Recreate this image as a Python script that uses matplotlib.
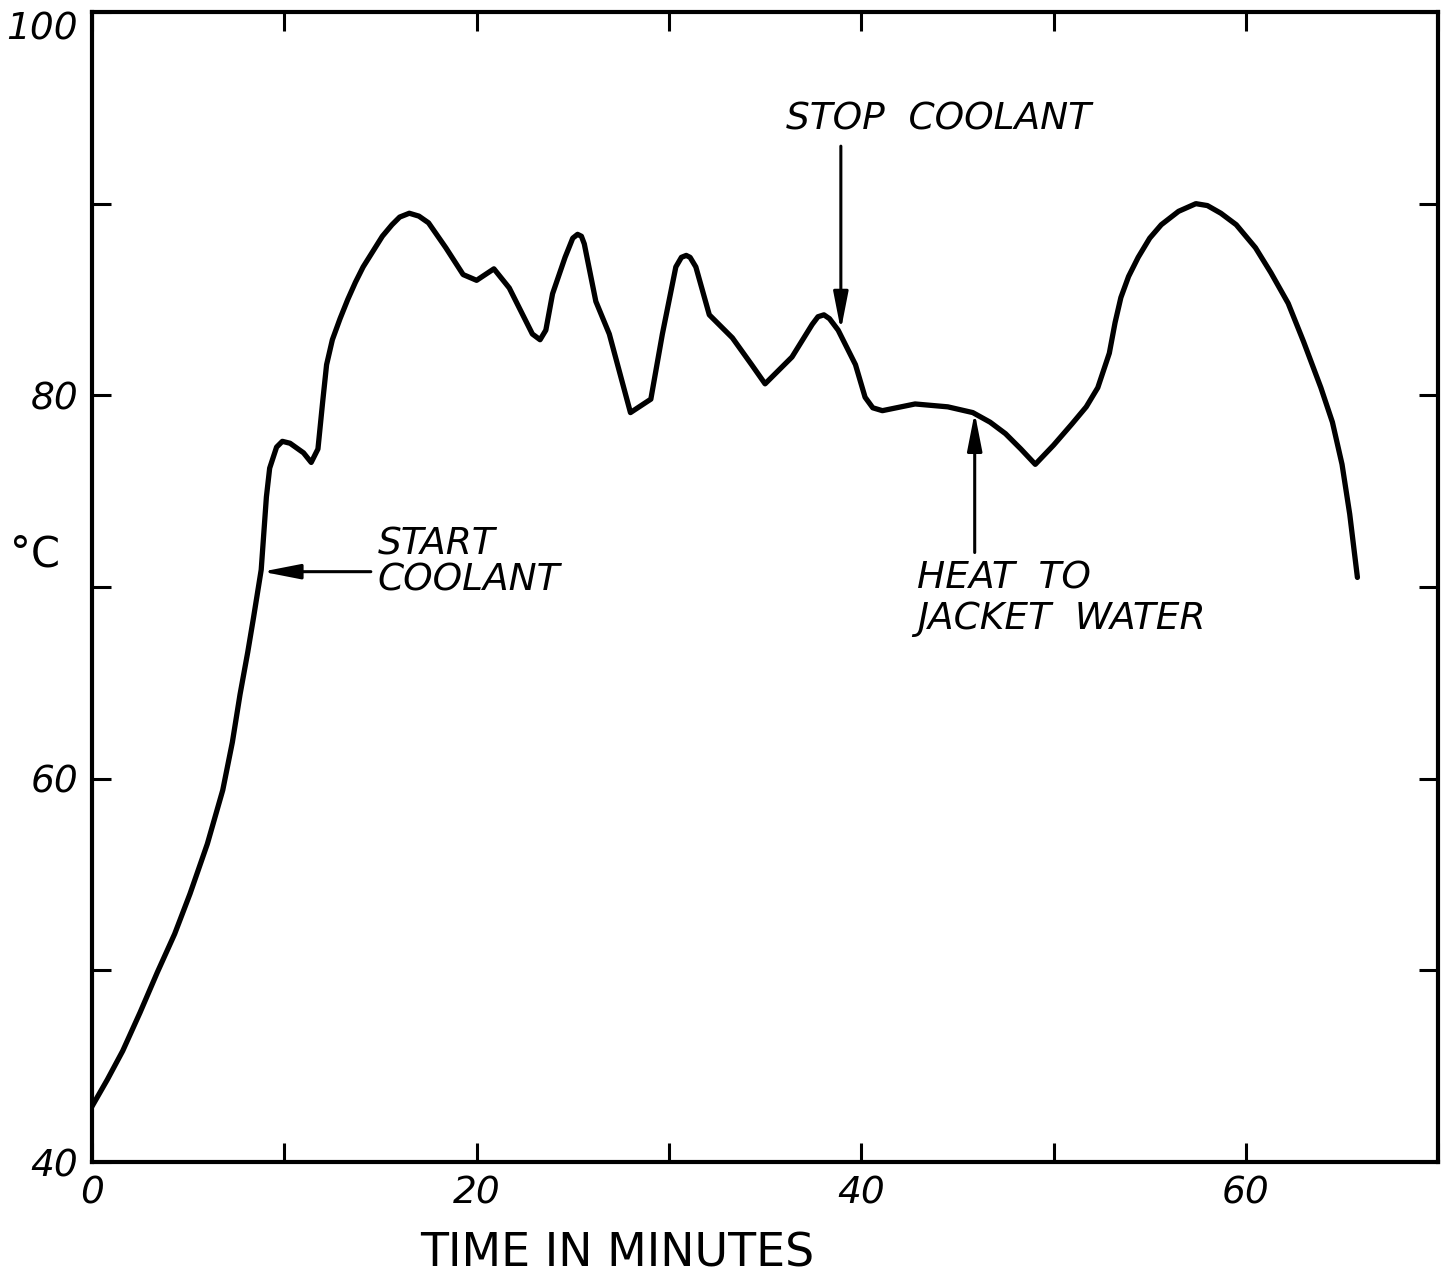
import numpy as np
import matplotlib
matplotlib.use("Agg")
import matplotlib.pyplot as plt

# temperature vs time
time_min = [0, 0.8, 1.6, 2.5, 3.4, 4.3, 5.1, 6.0, 6.8, 7.3, 7.7, 8.1, 8.4, 8.8,
            9.07, 9.24, 9.6, 9.9, 10.3, 11.0, 11.4, 11.75, 12.0, 12.2, 12.5,
            12.9, 13.3, 13.7, 14.1, 14.6, 15.1, 15.6, 16.0, 16.5, 17.0, 17.5,
            18.4, 19.3, 20.0, 20.9, 21.7, 22.9, 23.3, 23.6, 23.95, 24.6, 25.0,
            25.25, 25.45, 25.6, 26.2, 26.9, 28.0, 29.06, 29.66, 30.36, 30.65,
            30.9, 31.1, 31.4, 32.1, 33.3, 34.3, 35.0, 36.4, 37.45, 37.75,
            38.06, 38.35, 38.8, 39.7, 40.2, 40.6, 41.1, 42.8, 44.5, 45.8,
            46.7, 47.5, 48.3, 49.05, 50.0, 50.95, 51.7, 52.3, 52.9, 53.2,
            53.5, 53.9, 54.4, 55.0, 55.6, 56.5, 57.4, 58.0, 58.7, 59.5, 60.5,
            61.3, 62.2, 63.0, 63.9, 64.5, 65.0, 65.4, 65.8]
temp_c = [42.9, 44.3, 45.8, 47.8, 49.9, 51.9, 54.0, 56.6, 59.4, 61.9, 64.4, 66.6, 68.4, 70.9,
          74.7, 76.2, 77.3, 77.6, 77.5, 77.0, 76.5, 77.2, 79.7, 81.6, 82.9,
          84.0, 85.0, 85.9, 86.7, 87.5, 88.3, 88.9, 89.3, 89.5, 89.35, 89.0,
          87.7, 86.3, 86.0, 86.6, 85.6, 83.2, 82.9, 83.4, 85.3, 87.2, 88.2,
          88.4, 88.3, 87.9, 84.9, 83.2, 79.1, 79.8, 83.2, 86.7, 87.2,
          87.3, 87.2, 86.7, 84.2, 83.0, 81.6, 80.6, 82.0, 83.7, 84.1,
          84.2, 84.0, 83.4, 81.6, 79.9, 79.35, 79.2, 79.55, 79.4, 79.1,
          78.6, 78.0, 77.2, 76.4, 77.4, 78.5, 79.4, 80.4, 82.2, 83.8,
          85.1, 86.2, 87.2, 88.2, 88.9, 89.6, 90.0, 89.9, 89.5, 88.9, 87.7,
          86.4, 84.8, 82.8, 80.4, 78.6, 76.4, 73.8, 70.5]

x_ticks = [0, 10, 20, 30, 40, 50, 60, 70]
x_labels = ["0", "", "20", "", "40", "", "60", ""]
y_ticks = [40, 50, 60, 70, 80, 90, 100]
y_labels = ["40", "", "60", "", "80", "", "100"]

fig = plt.figure(figsize=(14.46, 12.75), dpi=100)
ax = fig.add_axes([0.0636, 0.0886, 0.931, 0.902])

ax.plot(time_min, temp_c, color="black", lw=3.8,
        solid_joinstyle="round", solid_capstyle="round")

ax.set_xlim(0, 70)
ax.set_ylim(40, 100)
ax.set_xticks(x_ticks)
ax.set_xticklabels(x_labels, fontsize=27, style="italic")
ax.set_yticks(y_ticks)
ax.set_yticklabels(y_labels, fontsize=27, style="italic")
ax.tick_params(direction="in", length=14, width=2.2,
               top=True, right=True, pad=10)
# top label sits inside the frame height, like the original
ax.get_yticklabels()[-1].set_va("top")

for s in ax.spines.values():
    s.set_linewidth(3)

ax.set_xlabel("TIME IN MINUTES", fontsize=33)
ax.xaxis.set_label_coords(0.39, -0.06)
fig.text(0.007, 0.565, "°C", fontsize=30, va="center", ha="left")

# annotations
arrow = dict(arrowstyle="-|>,head_length=2.3,head_width=0.45",
             lw=2.2, color="black", shrinkA=0, shrinkB=0)
txt = dict(fontsize=27, style="italic")

ax.annotate("", xy=(8.85, 70.8), xytext=(14.5, 70.8), arrowprops=arrow)
ax.text(14.85, 71.3, "START\nCOOLANT", ha="left", va="center",
        linespacing=1.0, **txt)

ax.annotate("", xy=(38.94, 83.4), xytext=(38.94, 93.0), arrowprops=arrow)
ax.text(44.0, 94.4, "STOP  COOLANT", ha="center", va="center", **txt)

ax.annotate("", xy=(45.9, 79.1), xytext=(45.9, 71.8), arrowprops=arrow)
ax.text(42.9, 69.4, "HEAT  TO\nJACKET  WATER", ha="left", va="center",
        linespacing=1.15, **txt)

fig.savefig("out.png", dpi=100)
